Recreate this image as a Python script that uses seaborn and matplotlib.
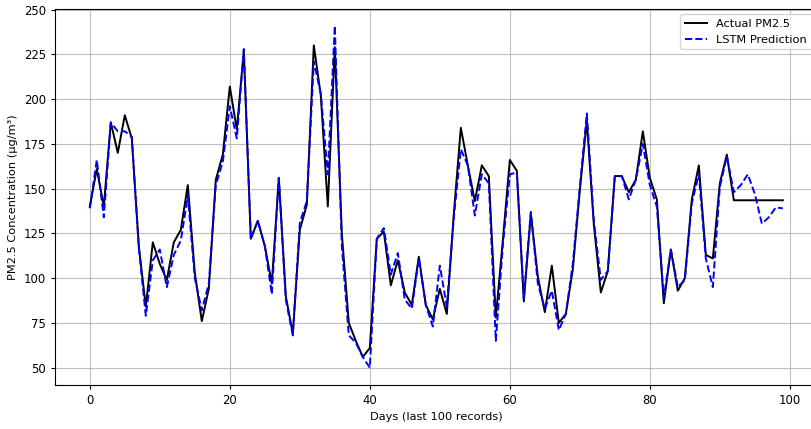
import numpy as np
import pandas as pd
import matplotlib
matplotlib.use("Agg")
import matplotlib.pyplot as plt
import seaborn as sns

# values, day 0..99
actual = [140, 161, 140, 187, 170, 191, 178, 118, 84, 120,
          108, 99, 120, 127, 152, 103, 76, 94, 155, 169,
          207, 183, 227, 122, 132, 118, 97, 156, 90, 69,
          127, 141, 230, 202, 140, 229, 125, 75, 65, 56,
          61, 122, 126, 96, 110, 92, 85, 112, 85, 77,
          94, 80, 136, 184, 163, 143, 163, 157, 78, 121,
          166, 160, 87, 136, 101, 81, 107, 75, 80, 105,
          149, 188, 130, 92, 104, 157, 157, 148, 155, 182,
          156, 144, 86, 116, 93, 100, 144, 163, 113, 111,
          153, 169, 143.5, 143.5, 143.5, 143.5, 143.5, 143.5, 143.5, 143.5]
predicted = [139, 166, 134, 187, 182, 182, 179, 117, 79, 110,
             116, 95, 113, 121, 146, 100, 82, 97, 152, 165,
             196, 178, 228, 122, 132, 118, 91, 156, 88, 68,
             131, 143, 221, 203, 158, 241, 118, 68, 64, 56,
             50, 122, 128, 102, 114, 88, 83, 111, 85, 73,
             107, 84, 134, 172, 163, 135, 158, 153, 65, 118,
             158, 159, 89, 137, 97, 83, 93, 71, 80, 108,
             151, 192, 132, 99, 104, 157, 157, 144, 155, 175,
             152, 140, 89, 116, 95, 99, 142, 158, 111, 95,
             151, 168, 148, 152, 158, 147, 130.5, 134, 139.5, 139]
days = np.arange(len(actual))

df = pd.DataFrame({"day": days, "actual": actual, "pred": predicted})

plt.rcParams["font.family"] = ["DejaVu Sans"]
plt.rcParams["font.size"] = 8.2

fig = plt.figure(figsize=(8.11, 4.29), dpi=100)
ax = fig.add_axes([0.068, 0.103, 0.94, 0.877])

sns.lineplot(data=df, x="day", y="actual", color="black", linewidth=1.4,
             label="Actual PM2.5", ax=ax)
sns.lineplot(data=df, x="day", y="pred", color="blue", linewidth=1.4,
             linestyle="--", label="LSTM Prediction", ax=ax)

ax.set_xlabel("Days (last 100 records)", fontsize=8.2)
ax.set_ylabel("PM2.5 Concentration (µg/m³)", fontsize=8.2)
ax.tick_params(labelsize=8.4, width=0.8, length=3)
ax.grid(True, color="#b0b0b0", linewidth=0.8, alpha=0.8)
ax.legend(loc="upper right", fontsize=8.2)

fig.savefig("out.png", dpi=100)
